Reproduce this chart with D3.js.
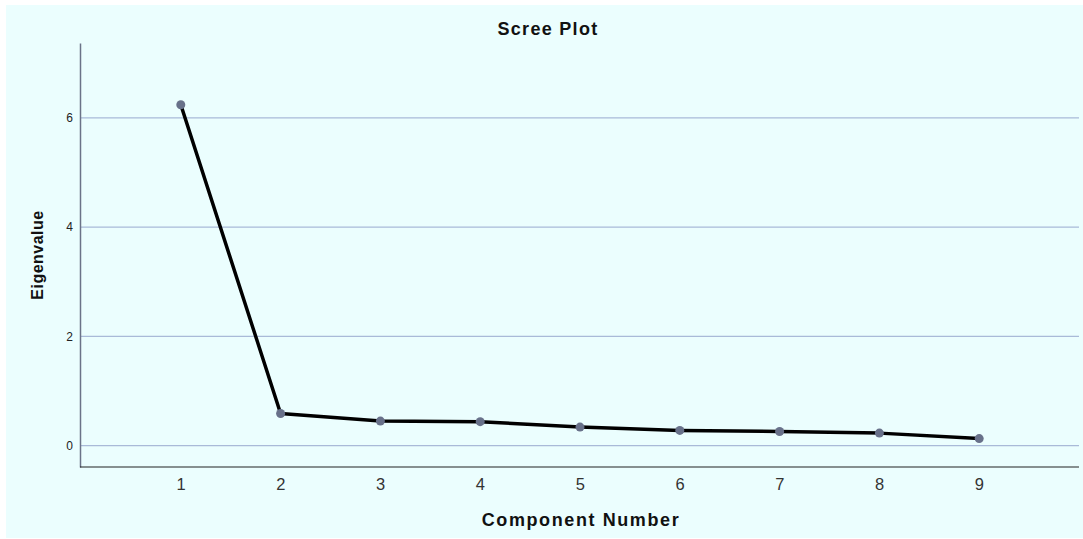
<!DOCTYPE html>
<html>
<head>
<meta charset="utf-8">
<script src="https://cdn.jsdelivr.net/npm/d3@7"></script>
<style>
	html, body { margin: 0; padding: 0; background: #ffffff; }
	svg { display: block; font-family: "Liberation Sans", Arial, sans-serif; }
</style>
</head>
<body>
<div id="chart"></div>
<script>
// scree plot data
var components = [1, 2, 3, 4, 5, 6, 7, 8, 9];
var eigenvalues = [6.24, 0.59, 0.45, 0.44, 0.34, 0.28, 0.26, 0.23, 0.13];
var yTicks = [0, 2, 4, 6];
var xTicks = [1, 2, 3, 4, 5, 6, 7, 8, 9];

(function() {
	var width = 1083,
		height = 539,
		margin = { top: 43, right: 4, bottom: 72, left: 80 };

	var svg = d3.select("#chart")
		.append("svg")
		.attr("width", width)
		.attr("height", height);

	// light cyan panel
	svg.append("rect")
		.attr("x", 6)
		.attr("y", 5)
		.attr("width", width - 6)
		.attr("height", height - 6)
		.attr("fill", "#ebfefe");

	var x = d3.scaleLinear()
		.domain([0, 10])
		.range([margin.left + 1, width - margin.right]);

	var y = d3.scaleLinear()
		.domain([-0.39, 7.37])
		.range([height - margin.bottom, margin.top]);

	// gridlines
	svg.append("g")
		.selectAll("line")
		.data(yTicks)
		.join("line")
		.attr("x1", margin.left)
		.attr("x2", width - margin.right)
		.attr("y1", d => y(d))
		.attr("y2", d => y(d))
		.attr("stroke", "#a9bad8")
		.attr("stroke-width", 1.2);

	// y axis
	var yAxis = svg.append("g")
		.attr("transform", `translate(${margin.left},0)`)
		.call(d3.axisLeft(y).tickValues(yTicks).tickSize(0).tickPadding(7));
	yAxis.select(".domain").attr("stroke", "#6b7388").attr("stroke-width", 1.5);
	yAxis.selectAll("text")
		.attr("font-size", 12)
		.attr("fill", "#222");

	// x axis
	var xAxis = svg.append("g")
		.attr("transform", `translate(0,${height - margin.bottom})`)
		.call(d3.axisBottom(x).tickValues(xTicks).tickSize(0).tickPadding(11));
	xAxis.select(".domain")
		.attr("d", `M${margin.left},0H${width - margin.right}`)
		.attr("stroke", "#222").attr("stroke-width", 1.2);
	xAxis.selectAll("text")
		.attr("font-size", 16.5)
		.attr("letter-spacing", 0.5)
		.attr("fill", "#333");

	var data = components.map((c, i) => ({ comp: c, value: eigenvalues[i] }));

	var line = d3.line()
		.x(d => x(d.comp))
		.y(d => y(d.value));

	svg.append("path")
		.datum(data)
		.attr("d", line)
		.attr("fill", "none")
		.attr("stroke", "#000")
		.attr("stroke-width", 3.5)
		.attr("stroke-linejoin", "round");

	svg.append("g")
		.selectAll("circle")
		.data(data)
		.join("circle")
		.attr("cx", d => x(d.comp))
		.attr("cy", d => y(d.value))
		.attr("r", 4.5)
		.attr("fill", "#68718a");

	// title and labels
	svg.append("text")
		.attr("x", 548)
		.attr("y", 35)
		.attr("text-anchor", "middle")
		.attr("font-size", 18)
		.attr("letter-spacing", 1.3)
		.attr("font-weight", "bold")
		.attr("fill", "#111")
		.text("Scree Plot");

	svg.append("text")
		.attr("x", 581)
		.attr("y", 526)
		.attr("text-anchor", "middle")
		.attr("font-size", 18)
		.attr("letter-spacing", 1.6)
		.attr("font-weight", "bold")
		.attr("fill", "#111")
		.text("Component Number");

	svg.append("text")
		.attr("transform", "translate(43,255) rotate(-90)")
		.attr("text-anchor", "middle")
		.attr("font-size", 16)
		.attr("letter-spacing", 0.5)
		.attr("font-weight", "bold")
		.attr("fill", "#111")
		.text("Eigenvalue");
})();
</script>
</body>
</html>
